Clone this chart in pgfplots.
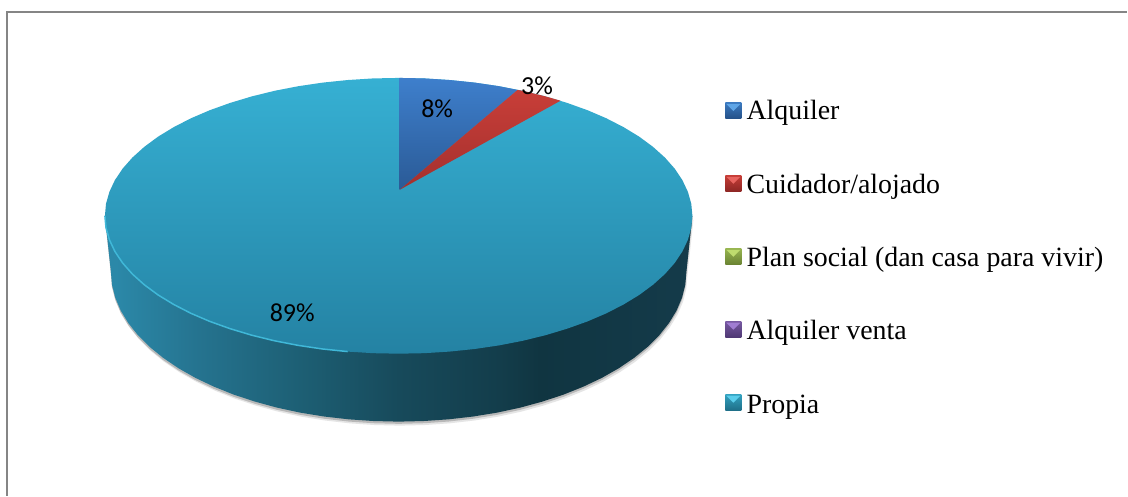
\documentclass[border=0pt]{standalone}
\usepackage{pgfplots}
\pgfplotsset{compat=1.18}
\usepackage{pgfplotstable}
\usepackage{fontspec}
\setmainfont{Liberation Serif}
\newfontfamily\lab{Carlito}
\definecolor{w1}{HTML}{2B88A8}\definecolor{w2}{HTML}{25738F}\definecolor{w3}{HTML}{1D5F74}
\definecolor{w4}{HTML}{174A5B}\definecolor{w5}{HTML}{133D4B}\definecolor{w6}{HTML}{103541}
\definecolor{w7}{HTML}{123846}\definecolor{w8}{HTML}{153B4A}
\pgfdeclarehorizontalshading{wall}{100bp}{color(0bp)=(w1);color(25.9bp)=(w1);color(33bp)=(w2);color(41.6bp)=(w3);color(50bp)=(w4);color(58.6bp)=(w5);color(62bp)=(w6);color(68.8bp)=(w7);color(75bp)=(w8);color(100bp)=(w8)}
\pgfplotstableread{
x y
105 216
111 272
112.1 285.1
115.4 298
120.8 310.8
128.4 323.3
138 335.4
149.6 347
163.1 358
178.4 368.4
195.4 378.1
213.9 386.9
233.8 394.9
255 401.9
277.3 408
300.5 413
324.5 416.9
349 419.7
373.9 421.4
399 422
424.1 421.4
449 419.7
473.5 416.9
497.5 413
520.7 408
543 401.9
564.2 394.9
584.1 386.9
602.6 378.1
619.6 368.4
634.9 358
648.4 347
660 335.4
669.6 323.3
677.2 310.8
682.6 298
685.9 285.1
687 272
693 216
}\wallshape
\pgfplotstableread{
x y
693 216
691.9 204
688.5 192
683 180.3
675.3 168.8
665.5 157.7
653.6 147
639.8 136.8
624.2 127.3
606.9 118.4
588 110.3
567.6 103
546 96.5
523.2 90.9
499.5 86.3
475.1 82.7
450 80.1
424.6 78.5
399 78
373.4 78.5
348 80.1
322.9 82.7
298.5 86.3
274.8 90.9
252 96.5
230.4 103
210 110.3
191.1 118.4
173.8 127.3
158.2 136.8
144.4 147
132.5 157.7
122.7 168.8
115 180.3
109.5 192
106.1 204
105 216
106.1 228
109.5 240
115 251.7
122.7 263.2
132.5 274.3
144.4 285
158.2 295.2
173.8 304.7
191.1 313.6
210 321.7
230.4 329
252 335.5
274.8 341.1
298.5 345.7
322.9 349.3
348 351.9
373.4 353.5
399 354
424.6 353.5
450 351.9
475.1 349.3
499.5 345.7
523.2 341.1
546 335.5
567.6 329
588 321.7
606.9 313.6
624.2 304.7
639.8 295.2
653.6 285
665.5 274.3
675.3 263.2
683 251.7
688.5 240
691.9 228
}\topshape
\pgfplotstableread{
x y
105 216
106.1 228
109.5 240
115 251.7
122.7 263.2
132.5 274.3
144.4 285
158.2 295.2
173.8 304.7
191.1 313.6
210 321.7
230.4 329
252 335.5
274.8 341.1
298.5 345.7
322.9 349.3
348 351.9
}\rim
\newcommand{\swatch}[4]{%
\addplot[draw=none,top color=#2,bottom color=#3] coordinates {(726,#1-8) (742,#1-8) (742,#1+8) (726,#1+8)};
\addplot[draw=none,fill=#4] coordinates {(727,#1-7) (741,#1-7) (734,#1) };
}
\begin{document}
\begin{tikzpicture}
\begin{axis}[
  scale only axis, width=1128pt, height=496pt,
  xmin=0, xmax=1128, ymin=0, ymax=496, y dir=reverse,
  hide axis, clip=false]
\addplot[draw=none,fill=white] coordinates {(0,0) (1128,0) (1128,496) (0,496)};
% frame
\addplot[draw=black!48,line width=2pt] coordinates {(7,496) (7,12) (1128,12)};
% soft shadow and wall
\addplot[draw=none,fill=black!10,yshift=-4pt,xshift=1pt] table {\wallshape};
\addplot[draw=none,fill=black!28,yshift=-2.2pt] table {\wallshape};
\addplot[draw=none,shade,shading=wall] table {\wallshape};
% top surface
\addplot[draw=none,top color={rgb,255:red,54;green,176;blue,211},bottom color={rgb,255:red,36;green,130;blue,163}] table {\topshape};
\addplot[draw={rgb,255:red,64;green,184;blue,216},line width=1.5pt] table {\rim};
% slices: 8 % and 3 %
\addplot[draw=none,top color={rgb,255:red,62;green,127;blue,204},bottom color={rgb,255:red,42;green,90;blue,150}] coordinates {(400,190) (400,78) (424.6,78.5) (450,80.1) (475.1,82.7) (499.5,86.3) (518,90)};
\addplot[draw=none,top color={rgb,255:red,200;green,62;blue,56},bottom color={rgb,255:red,164;green,48;blue,46}] coordinates {(400,190) (518,90) (523.2,90.9) (546,96.5) (561,100.8)};
% data labels
\node[font=\lab\fontsize{26}{28}\selectfont] at (axis cs:437.5,109) {8\%};
\node[font=\lab\fontsize{26}{28}\selectfont] at (axis cs:537.5,86) {3\%};
\node[font=\lab\fontsize{26}{28}\selectfont] at (axis cs:292.5,313) {89\%};
% legend
\swatch{111}{{rgb,255:red,58;green,120;blue,190}}{{rgb,255:red,36;green,80;blue,135}}{{rgb,255:red,95;green,165;blue,230}}
\swatch{184}{{rgb,255:red,196;green,60;blue,54}}{{rgb,255:red,140;green,38;blue,36}}{{rgb,255:red,232;green,100;blue,95}}
\swatch{257}{{rgb,255:red,150;green,180;blue,80}}{{rgb,255:red,105;green,130;blue,50}}{{rgb,255:red,190;green,220;blue,110}}
\swatch{330}{{rgb,255:red,118;green,88;blue,160}}{{rgb,255:red,78;green,56;blue,115}}{{rgb,255:red,160;green,125;blue,210}}
\swatch{403}{{rgb,255:red,50;green,160;blue,190}}{{rgb,255:red,30;green,110;blue,135}}{{rgb,255:red,90;green,205;blue,235}}
\node[anchor=base west,inner sep=0pt,font=\fontsize{27.9}{30}\selectfont] at (axis cs:747,120) {Alquiler};
\node[anchor=base west,inner sep=0pt,font=\fontsize{27.9}{30}\selectfont] at (axis cs:747,193.5) {Cuidador/alojado};
\node[anchor=base west,inner sep=0pt,font=\fontsize{27.9}{30}\selectfont] at (axis cs:747,266.5) {Plan social (dan casa para vivir)};
\node[anchor=base west,inner sep=0pt,font=\fontsize{27.9}{30}\selectfont] at (axis cs:747,340) {Alquiler venta};
\node[anchor=base west,inner sep=0pt,font=\fontsize{27.9}{30}\selectfont] at (axis cs:747,413.5) {Propia};
\end{axis}
\end{tikzpicture}
\end{document}
